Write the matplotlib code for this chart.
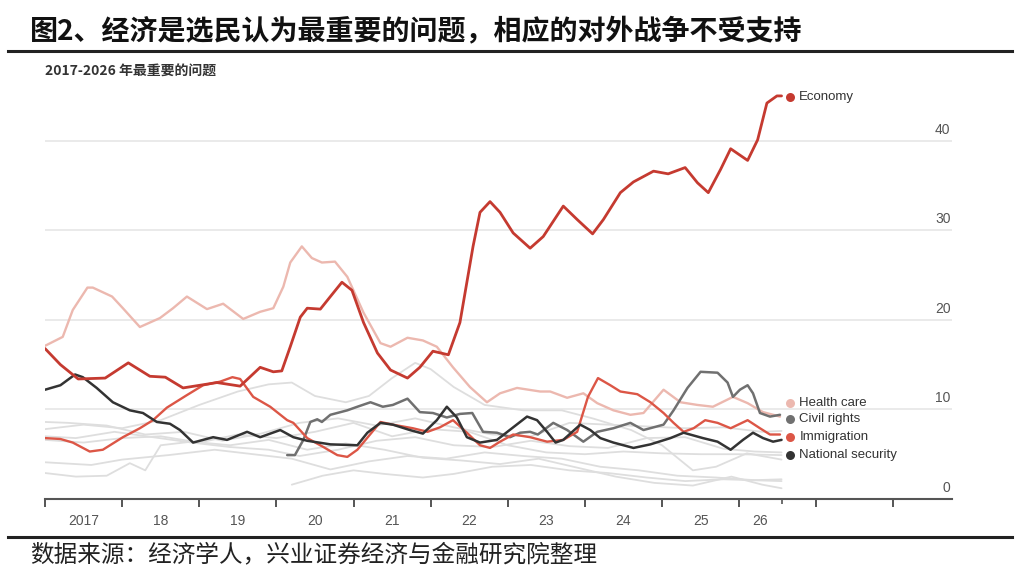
import matplotlib
matplotlib.use('Agg')
import matplotlib.pyplot as plt
from matplotlib.lines import Line2D

plt.rcParams['font.family'] = ['Noto Sans CJK SC', 'DejaVu Sans']

# ---------------------------------------------------------------------------
# data (share of respondents naming each issue as most important, %)
# ---------------------------------------------------------------------------
econ_x = [2017.00, 2017.20, 2017.43, 2017.78, 2018.08, 2018.36, 2018.56, 2018.79, 2019.01, 2019.23,
          2019.53, 2019.79, 2019.96, 2020.07, 2020.18, 2020.31, 2020.40, 2020.57, 2020.70, 2020.85,
          2020.98, 2021.13, 2021.31, 2021.48, 2021.70, 2021.86, 2022.03, 2022.23, 2022.38, 2022.55,
          2022.64, 2022.77, 2022.90, 2023.07, 2023.29, 2023.46, 2023.72, 2023.90, 2024.10, 2024.24,
          2024.46, 2024.63, 2024.89, 2025.08, 2025.30, 2025.46, 2025.60, 2025.76, 2025.89, 2026.11,
          2026.24, 2026.36, 2026.49, 2026.55]
econ_y = [16.8, 15.0, 13.4, 13.5, 15.2, 13.7, 13.6, 12.4, 12.7, 13.0,
          12.6, 14.7, 14.2, 14.3, 17.0, 20.3, 21.3, 21.2, 22.6, 24.2,
          23.3, 19.7, 16.3, 14.4, 13.5, 14.7, 16.5, 16.1, 19.7, 28.2,
          32.0, 33.2, 32.0, 29.7, 28.0, 29.3, 32.7, 31.2, 29.6, 31.2,
          34.2, 35.4, 36.6, 36.3, 37.0, 35.3, 34.2, 36.8, 39.1, 37.8,
          40.1, 44.2, 45.0, 45.0]

hc_x = [2017.00, 2017.23, 2017.36, 2017.55, 2017.62, 2017.87, 2018.01, 2018.23, 2018.49, 2018.66,
        2018.84, 2019.10, 2019.31, 2019.57, 2019.79, 2019.96, 2020.09, 2020.18, 2020.33, 2020.46,
        2020.59, 2020.76, 2020.92, 2021.13, 2021.35, 2021.48, 2021.70, 2021.90, 2022.08, 2022.29,
        2022.51, 2022.73, 2022.90, 2023.12, 2023.42, 2023.55, 2023.77, 2023.98, 2024.16, 2024.37,
        2024.59, 2024.76, 2025.02, 2025.24, 2025.46, 2025.66, 2025.92, 2026.11, 2026.31, 2026.53]
hc_y = [17.1, 18.1, 21.1, 23.6, 23.6, 22.6, 21.3, 19.2, 20.2, 21.3,
        22.6, 21.2, 21.8, 20.1, 20.9, 21.3, 23.7, 26.4, 28.2, 26.9,
        26.4, 26.5, 24.8, 20.8, 17.4, 17.0, 18.0, 17.7, 17.0, 14.7,
        12.5, 10.8, 11.8, 12.4, 12.0, 12.0, 11.3, 11.8, 10.7, 9.9,
        9.4, 9.6, 12.2, 10.8, 10.5, 10.3, 11.4, 10.7, 9.7, 9.2]

cr_x = [2020.14, 2020.24, 2020.35, 2020.44, 2020.53, 2020.59, 2020.70, 2020.92, 2021.05, 2021.22,
        2021.38, 2021.51, 2021.70, 2021.86, 2022.03, 2022.21, 2022.38, 2022.54, 2022.68, 2022.86,
        2023.03, 2023.16, 2023.29, 2023.39, 2023.59, 2023.77, 2023.98, 2024.16, 2024.37, 2024.59,
        2024.76, 2025.02, 2025.15, 2025.33, 2025.50, 2025.72, 2025.85, 2025.92, 2026.01, 2026.11,
        2026.18, 2026.27, 2026.40, 2026.53]
cr_y = [4.9, 4.9, 6.6, 8.6, 8.9, 8.6, 9.4, 9.9, 10.3, 10.8,
        10.3, 10.5, 11.2, 9.7, 9.6, 9.1, 9.5, 9.6, 7.5, 7.4,
        6.9, 7.4, 7.5, 7.2, 8.5, 7.7, 6.4, 7.5, 7.9, 8.5,
        7.7, 8.3, 9.9, 12.4, 14.2, 14.1, 13.0, 11.4, 12.2, 12.7,
        11.8, 9.6, 9.2, 9.4]

im_x = [2017.00, 2017.20, 2017.36, 2017.58, 2017.75, 2018.01, 2018.23, 2018.40, 2018.58, 2018.84,
        2019.05, 2019.27, 2019.43, 2019.53, 2019.70, 2019.92, 2020.14, 2020.22, 2020.40, 2020.61,
        2020.79, 2020.92, 2021.05, 2021.35, 2021.51, 2021.77, 2021.96, 2022.12, 2022.29, 2022.47,
        2022.64, 2022.77, 2022.90, 2023.07, 2023.29, 2023.51, 2023.72, 2023.90, 2024.04, 2024.17,
        2024.33, 2024.46, 2024.68, 2024.85, 2025.02, 2025.15, 2025.28, 2025.41, 2025.56, 2025.72,
        2025.89, 2026.11, 2026.27, 2026.40, 2026.53]
im_y = [6.8, 6.7, 6.3, 5.3, 5.5, 6.9, 7.9, 8.8, 10.2, 11.6,
        12.7, 13.1, 13.6, 13.4, 11.4, 10.3, 8.8, 8.5, 6.8, 5.8,
        4.9, 4.7, 5.5, 8.6, 8.3, 7.9, 7.5, 8.0, 8.8, 7.4,
        6.0, 5.7, 6.4, 7.2, 6.9, 6.4, 6.6, 7.5, 11.4, 13.5,
        12.7, 12.0, 11.7, 10.8, 9.6, 8.5, 7.5, 7.9, 8.8, 8.5,
        7.9, 8.8, 7.9, 7.2, 7.2]

ns_x = [2017.00, 2017.20, 2017.39, 2017.49, 2017.67, 2017.88, 2018.10, 2018.27, 2018.45, 2018.62,
        2018.75, 2018.92, 2019.18, 2019.36, 2019.62, 2019.79, 2020.05, 2020.22, 2020.40, 2020.70,
        2021.05, 2021.18, 2021.35, 2021.51, 2021.73, 2021.90, 2022.08, 2022.21, 2022.34, 2022.47,
        2022.64, 2022.86, 2023.07, 2023.25, 2023.38, 2023.51, 2023.62, 2023.72, 2023.94, 2024.07,
        2024.20, 2024.37, 2024.63, 2024.85, 2025.11, 2025.28, 2025.53, 2025.72, 2025.89, 2026.05,
        2026.18, 2026.31, 2026.44, 2026.55]
ns_y = [12.2, 12.7, 13.9, 13.6, 12.4, 10.8, 9.9, 9.6, 8.6, 8.4,
        7.7, 6.3, 6.9, 6.6, 7.5, 6.9, 7.7, 6.9, 6.5, 6.1,
        6.0, 7.4, 8.5, 8.3, 7.7, 7.3, 8.8, 10.3, 9.1, 6.9,
        6.3, 6.6, 8.0, 9.2, 8.8, 7.5, 6.3, 6.6, 8.3, 7.7,
        6.8, 6.3, 5.7, 6.1, 6.8, 7.4, 6.8, 6.4, 5.5, 6.6,
        7.4, 6.8, 6.4, 6.6]

# other (unlabelled) issues, drawn in light grey
other_x = [
    [2017.0, 2017.5, 2018.0, 2018.5, 2019.0, 2019.5, 2019.9, 2020.2, 2020.5, 2020.9, 2021.2, 2021.5,
     2021.8, 2022.0, 2022.3, 2022.7, 2023.2, 2023.7, 2024.1, 2024.6, 2025.0, 2025.4, 2025.7, 2026.1, 2026.55],
    [2017.0, 2017.4, 2017.9, 2018.4, 2018.9, 2019.4, 2019.9, 2020.3, 2020.8, 2021.3, 2021.8, 2022.3,
     2022.8, 2023.3, 2023.8, 2024.3, 2024.8, 2025.3, 2025.8, 2026.2, 2026.55],
    [2017.0, 2017.6, 2018.0, 2018.6, 2019.2, 2019.7, 2020.2, 2020.7, 2021.2, 2021.7, 2022.2, 2022.7,
     2023.2, 2023.7, 2024.2, 2024.7, 2025.2, 2025.7, 2026.2, 2026.55],
    [2017.0, 2017.4, 2017.8, 2018.1, 2018.3, 2018.5, 2018.9, 2019.4, 2019.9, 2020.4, 2020.9, 2021.4,
     2021.9, 2022.4, 2022.9, 2023.4, 2023.9, 2024.4, 2024.9, 2025.4, 2025.9, 2026.3, 2026.55],
    [2020.2, 2020.6, 2021.0, 2021.4, 2021.9, 2022.3, 2022.8, 2023.3, 2023.8, 2024.3, 2024.8, 2025.3,
     2025.8, 2026.55],
    [2017.0, 2017.3, 2017.8, 2018.3, 2018.8, 2019.3, 2019.8, 2020.3, 2020.8, 2021.3, 2021.8, 2022.3,
     2022.8, 2023.3, 2023.8, 2024.3, 2024.8, 2025.3, 2025.8, 2026.3, 2026.55],
    [2017.0, 2017.5, 2018.0, 2018.5, 2019.0, 2019.5, 2020.0, 2020.5, 2021.0, 2021.5, 2022.0, 2022.5,
     2023.0, 2023.5, 2024.0, 2024.5, 2025.0, 2025.5, 2026.0, 2026.55],
]
other_y = [
    [7.8, 8.3, 7.9, 8.8, 10.5, 12.0, 12.8, 13.0, 11.5, 10.8, 11.5, 13.5,
     15.2, 14.5, 12.5, 10.5, 9.9, 9.9, 9.0, 7.7, 6.0, 3.2, 3.6, 5.1, 4.4],
    [7.0, 6.8, 7.5, 6.9, 6.3, 5.8, 5.5, 4.8, 5.5, 6.5, 6.9, 6.0,
     5.8, 6.5, 5.9, 5.7, 6.8, 6.9, 5.6, 5.3, 5.2],
    [4.1, 3.8, 4.4, 4.9, 5.5, 5.0, 4.5, 3.3, 4.2, 4.8, 4.5, 5.2,
     4.8, 4.5, 3.6, 3.2, 2.6, 2.4, 2.1, 2.2],
    [2.9, 2.5, 2.6, 4.0, 3.2, 6.0, 6.4, 6.0, 6.6, 5.5, 6.2, 5.5,
     4.6, 4.3, 3.9, 4.5, 3.5, 2.5, 1.8, 1.5, 2.5, 1.6, 1.2],
    [1.6, 2.6, 3.2, 2.8, 2.4, 2.8, 3.6, 3.8, 3.2, 2.9, 2.4, 2.0,
     2.2, 2.0],
    [8.6, 8.5, 8.2, 7.2, 7.5, 6.5, 7.3, 8.5, 9.0, 8.2, 9.0, 8.0,
     7.2, 7.0, 8.5, 8.3, 8.1, 7.9, 8.0, 7.5, 7.6],
    [6.6, 6.3, 6.8, 7.0, 6.3, 7.2, 6.8, 7.5, 8.5, 7.0, 7.8, 7.5,
     6.0, 5.2, 5.0, 5.3, 5.1, 5.0, 5.0, 4.9],
]

label_names = ['Economy', 'Health care', 'Civil rights', 'Immigration', 'National security']
label_vals = [44.9, 10.7, 8.9, 6.9, 4.9]

year_ticks = list(range(2017, 2029))
year_label_pos = [2017.5, 2018.5, 2019.5, 2020.5, 2021.5, 2022.5, 2023.5, 2024.5, 2025.5, 2026.27]
year_labels = ['2017', '18', '19', '20', '21', '22', '23', '24', '25', '26']
y_ticks = [0, 10, 20, 30, 40]
data_end = 2026.55

# colours
C_ECON = '#c53a30'
C_HC = '#ecb8af'
C_CR = '#707070'
C_IM = '#dc5646'
C_NS = '#333333'
C_OTHER = '#dedede'

# ---------------------------------------------------------------------------
# figure
# ---------------------------------------------------------------------------
W, H = 1024, 577
fig = plt.figure(figsize=(W / 100, H / 100), dpi=100)
fig.patch.set_facecolor('white')


def fx(px):
    return px / W


def fy(py):
    return 1 - py / H


ax = fig.add_axes([fx(45), fy(499), (952 - 45) / W, (499 - 78) / H])
ax.set_xlim(2017, 2028.76)
ax.set_ylim(0, 47)
for s in ['top', 'right', 'left']:
    ax.spines[s].set_visible(False)
ax.spines['bottom'].set_color('#555555')
ax.spines['bottom'].set_linewidth(1.5)
ax.set_yticks([])

# gridlines + right-hand labels
for v in y_ticks:
    if v > 0:
        ax.axhline(v, color='#e6e6e6', lw=1.2, zorder=0)
    ax.annotate(str(v), xy=(1.0, v), xycoords=('axes fraction', 'data'),
                xytext=(-1, 3), textcoords='offset points', ha='right', va='bottom',
                fontsize=10, color='#555555', family=['Liberation Sans', 'DejaVu Sans'])

# x ticks
ax.set_xticks(year_ticks)
ax.set_xticklabels([])
ax.tick_params(axis='x', which='major', direction='out', length=6, width=1.4, color='#555555')
ax.set_xticks([data_end], minor=True)
ax.tick_params(axis='x', which='minor', direction='out', length=3.5, width=1.2, color='#555555')
for pos, lab in zip(year_label_pos, year_labels):
    ax.annotate(lab, xy=(pos, 0), xycoords=('data', 'axes fraction'),
                xytext=(0, -11), textcoords='offset points', ha='center', va='top',
                fontsize=10, color='#555555', family=['Liberation Sans', 'DejaVu Sans'])

# lines
line_kw = dict(solid_capstyle='round', solid_joinstyle='round')
for gx, gy in zip(other_x, other_y):
    ax.plot(gx, gy, color=C_OTHER, lw=1.3, zorder=1, **line_kw)
ax.plot(hc_x, hc_y, color=C_HC, lw=1.7, zorder=2, **line_kw)
ax.plot(cr_x, cr_y, color=C_CR, lw=1.8, zorder=3, **line_kw)
ax.plot(im_x, im_y, color=C_IM, lw=1.7, zorder=4, **line_kw)
ax.plot(ns_x, ns_y, color=C_NS, lw=1.8, zorder=5, **line_kw)
ax.plot(econ_x, econ_y, color=C_ECON, lw=2.0, zorder=6, **line_kw)

# end labels
label_colors = [C_ECON, C_HC, C_CR, C_IM, C_NS]
for name, val, col in zip(label_names, label_vals, label_colors):
    ax.scatter([2026.66], [val], s=42, color=col, zorder=7, clip_on=False, linewidths=0)
    ax.text(2026.78, val, name, ha='left', va='center', fontsize=9.5, color='#333333',
            family=['Liberation Sans', 'DejaVu Sans'])

# ---------------------------------------------------------------------------
# titles, rules, source
# ---------------------------------------------------------------------------
fig.text(fx(30), fy(31), '图2、经济是选民认为最重要的问题，相应的对外战争不受支持',
         ha='left', va='center', fontsize=20.2, fontweight='bold', color='#111111')
fig.add_artist(Line2D([fx(8), fx(1012)], [fy(51), fy(51)], color='#222222', lw=2.2))
fig.text(fx(45), fy(71), '2017-2026 年最重要的问题', ha='left', va='center',
         fontsize=10, fontweight='bold', color='#333333')
fig.add_artist(Line2D([fx(8), fx(1012)], [fy(537), fy(537)], color='#222222', lw=2.2))
fig.text(fx(30), fy(555), '数据来源：经济学人，兴业证券经济与金融研究院整理',
         ha='left', va='center', fontsize=17, color='#222222')

fig.savefig('out.png', dpi=100, facecolor='white')
